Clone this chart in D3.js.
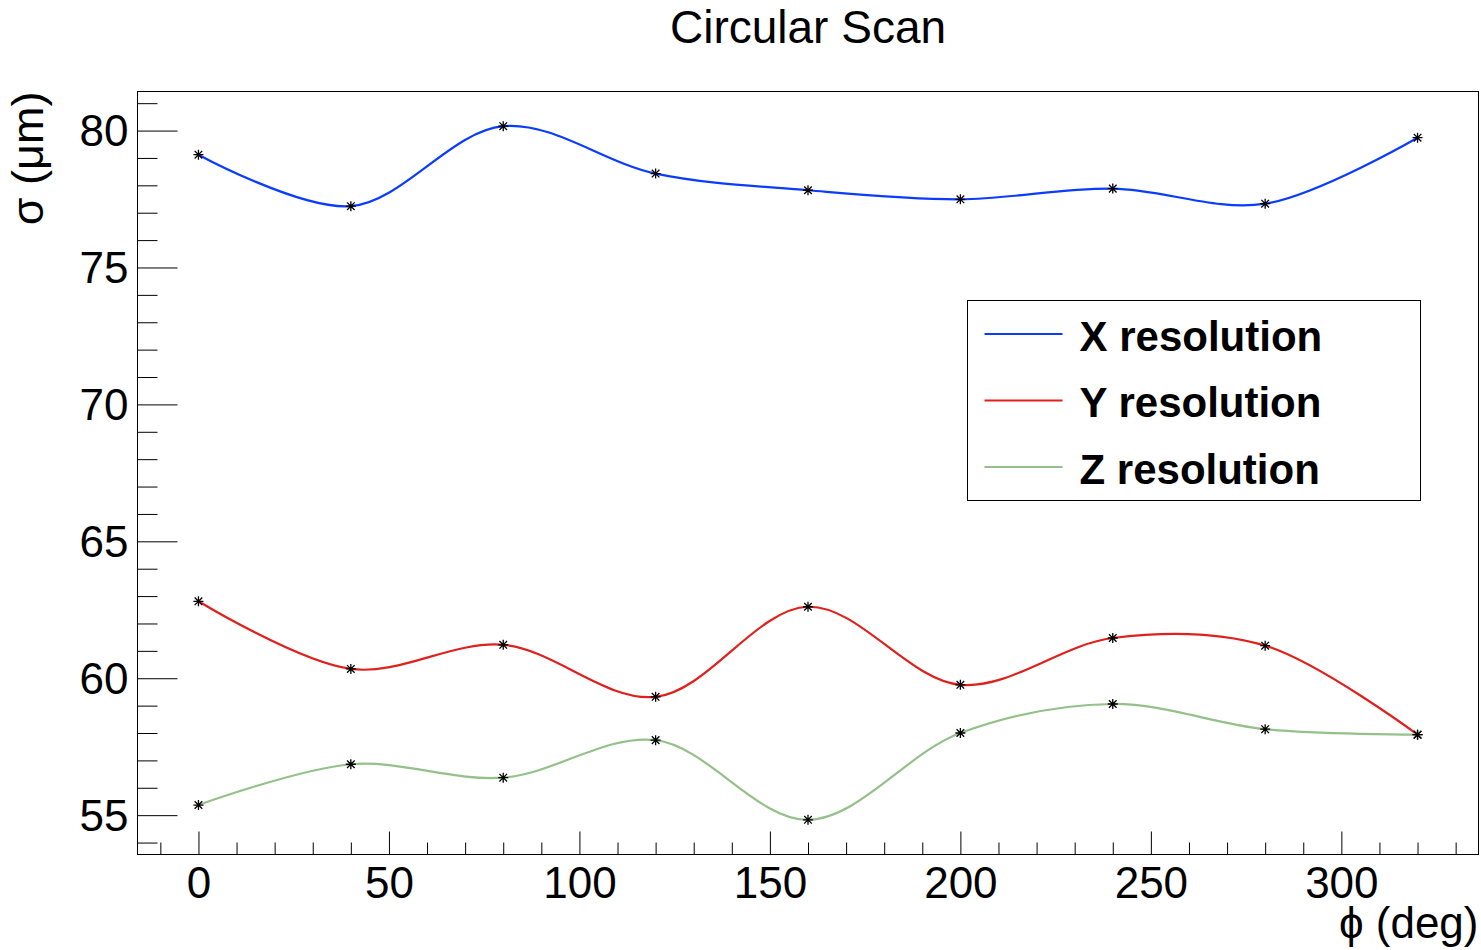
<!DOCTYPE html>
<html>
<head>
<meta charset="utf-8">
<script src="https://cdn.jsdelivr.net/npm/d3@7"></script>
<style>
  body { margin: 0; background: #fff; }
  svg { display: block; }
  text { font-family: "Liberation Sans", Arial, Helvetica, sans-serif; fill: #000; }
</style>
</head>
<body>
<div id="chart"></div>
<script>
var phi = [0, 40, 80, 120, 160, 200, 240, 280, 320]
var xRes = [79.12, 77.24, 80.16, 78.43, 77.82, 77.49, 77.88, 77.33, 79.74]
var yRes = [62.81, 60.34, 61.22, 59.32, 62.61, 59.76, 61.47, 61.19, 57.94]
var zRes = [55.37, 56.86, 56.37, 57.74, 54.83, 58.00, 59.06, 58.14, 57.94]
var seriesNames = ['X resolution', 'Y resolution', 'Z resolution']
var xTicks = [0, 50, 100, 150, 200, 250, 300]
var yTicks = [55, 60, 65, 70, 75, 80]

;(function() {
  var W = 1481
  var H = 950
  var margin = {top: 91.5, right: 2.5, bottom: 95.5, left: 137.5}
  var width = W - margin.left - margin.right
  var height = H - margin.top - margin.bottom

  var colors = ['#0a3cff', '#e0201c', '#94c08a']
  var allSeries = [xRes, yRes, zRes]

  // ROOT-like 5% padding around the data
  var xmin = d3.min(phi), xmax = d3.max(phi)
  var ymin = d3.min(allSeries.flat()), ymax = d3.max(allSeries.flat())
  var dx = xmax - xmin, dy = ymax - ymin

  var x = d3.scaleLinear().domain([xmin - 0.05 * dx, xmax + 0.05 * dx]).range([0, width])
  var y = d3.scaleLinear().domain([ymin - 0.05 * dy, ymax + 0.05 * dy]).range([height, 0])

  var svg = d3.select('#chart')
    .append('svg')
    .attr('width', W)
    .attr('height', H)

  svg.append('text')
    .attr('x', margin.left + width / 2)
    .attr('y', 43)
    .attr('text-anchor', 'middle')
    .style('font-size', '46px')
    .text('Circular Scan')

  var g = svg.append('g')
    .attr('transform', 'translate(' + margin.left + ',' + margin.top + ')')

  // minor ticks
  var xMinor = d3.range(-10, 336, 10).filter(function(v) { return v % 50 !== 0 })
  var yMinor = d3.range(54, 82, 1).filter(function(v) { return v % 5 !== 0 })

  g.append('g')
    .attr('class', 'axis x-minor')
    .attr('transform', 'translate(0,' + height + ')')
    .call(d3.axisBottom(x).tickValues(xMinor).tickSize(-12).tickFormat(''))

  g.append('g')
    .attr('class', 'axis y-minor')
    .call(d3.axisLeft(y).tickValues(yMinor).tickSize(-20).tickFormat(''))

  g.append('g')
    .attr('class', 'axis axis-x')
    .attr('transform', 'translate(0,' + height + ')')
    .call(d3.axisBottom(x).tickValues(xTicks).tickSize(-23).tickPadding(12))

  g.append('g')
    .attr('class', 'axis axis-y')
    .call(d3.axisLeft(y).tickValues(yTicks).tickSize(-40).tickPadding(9))

  g.selectAll('.axis .domain').remove()
  g.selectAll('.axis line').attr('stroke', '#000').attr('stroke-width', 1)
  g.selectAll('.axis text')
    .style('font-size', '44px')
    .attr('fill', '#000')
    .style('font-family', '"Liberation Sans", Arial, sans-serif')
  g.selectAll('.axis-y text').attr('dy', '0.35em')

  g.append('rect')
    .attr('x', 0)
    .attr('y', 0)
    .attr('width', width)
    .attr('height', height)
    .attr('fill', 'none')
    .attr('stroke', '#000')
    .attr('stroke-width', 1)

  var line = d3.line()
    .x(function(d) { return x(d[0]) })
    .y(function(d) { return y(d[1]) })
    .curve(d3.curveCatmullRom.alpha(0.5))

  allSeries.forEach(function(vals, i) {
    var pts = phi.map(function(p, j) { return [p, vals[j]] })
    g.append('path')
      .datum(pts)
      .attr('fill', 'none')
      .attr('stroke', colors[i])
      .attr('stroke-width', 2.2)
      .attr('d', line)
  })

  // ROOT marker style 3 (asterisk)
  var a = 5, b = 3.8
  var star = 'M' + (-a) + ',0H' + a + 'M0,' + (-a) + 'V' + a +
    'M' + (-b) + ',' + (-b) + 'L' + b + ',' + b +
    'M' + (-b) + ',' + b + 'L' + b + ',' + (-b)

  allSeries.forEach(function(vals) {
    g.append('g')
      .selectAll('.marker')
      .data(phi.map(function(p, j) { return [p, vals[j]] }))
      .enter().append('path')
      .attr('class', 'marker')
      .attr('transform', function(d) { return 'translate(' + x(d[0]) + ',' + y(d[1]) + ')' })
      .attr('d', star)
      .attr('stroke', '#000')
      .attr('stroke-width', 1.3)
      .attr('fill', 'none')
  })

  // axis titles
  svg.append('text')
    .attr('transform', 'translate(43,' + margin.top + ') rotate(-90)')
    .attr('text-anchor', 'end')
    .style('font-size', '45px')
    .text('σ (μm)')

  svg.append('text')
    .attr('x', margin.left + width)
    .attr('y', 938)
    .attr('text-anchor', 'end')
    .style('font-size', '44px')
    .text('ϕ (deg)')

  // legend
  var legend = svg.append('g').attr('transform', 'translate(967.5,300.5)')
  legend.append('rect')
    .attr('width', 453)
    .attr('height', 200)
    .attr('fill', '#fff')
    .attr('stroke', '#000')
    .attr('stroke-width', 1)

  var rows = legend.selectAll('.row')
    .data(seriesNames)
    .enter().append('g')
    .attr('class', 'row')
    .attr('transform', function(d, i) { return 'translate(0,' + (33.5 + i * 66.5) + ')' })

  rows.append('line')
    .attr('x1', 17)
    .attr('x2', 95)
    .attr('stroke', function(d, i) { return colors[i] })
    .attr('stroke-width', 2.2)

  rows.append('text')
    .attr('x', 112)
    .attr('y', 16.5)
    .style('font-size', '42px')
    .style('font-weight', 'bold')
    .text(function(d) { return d })
})()
</script>
</body>
</html>
